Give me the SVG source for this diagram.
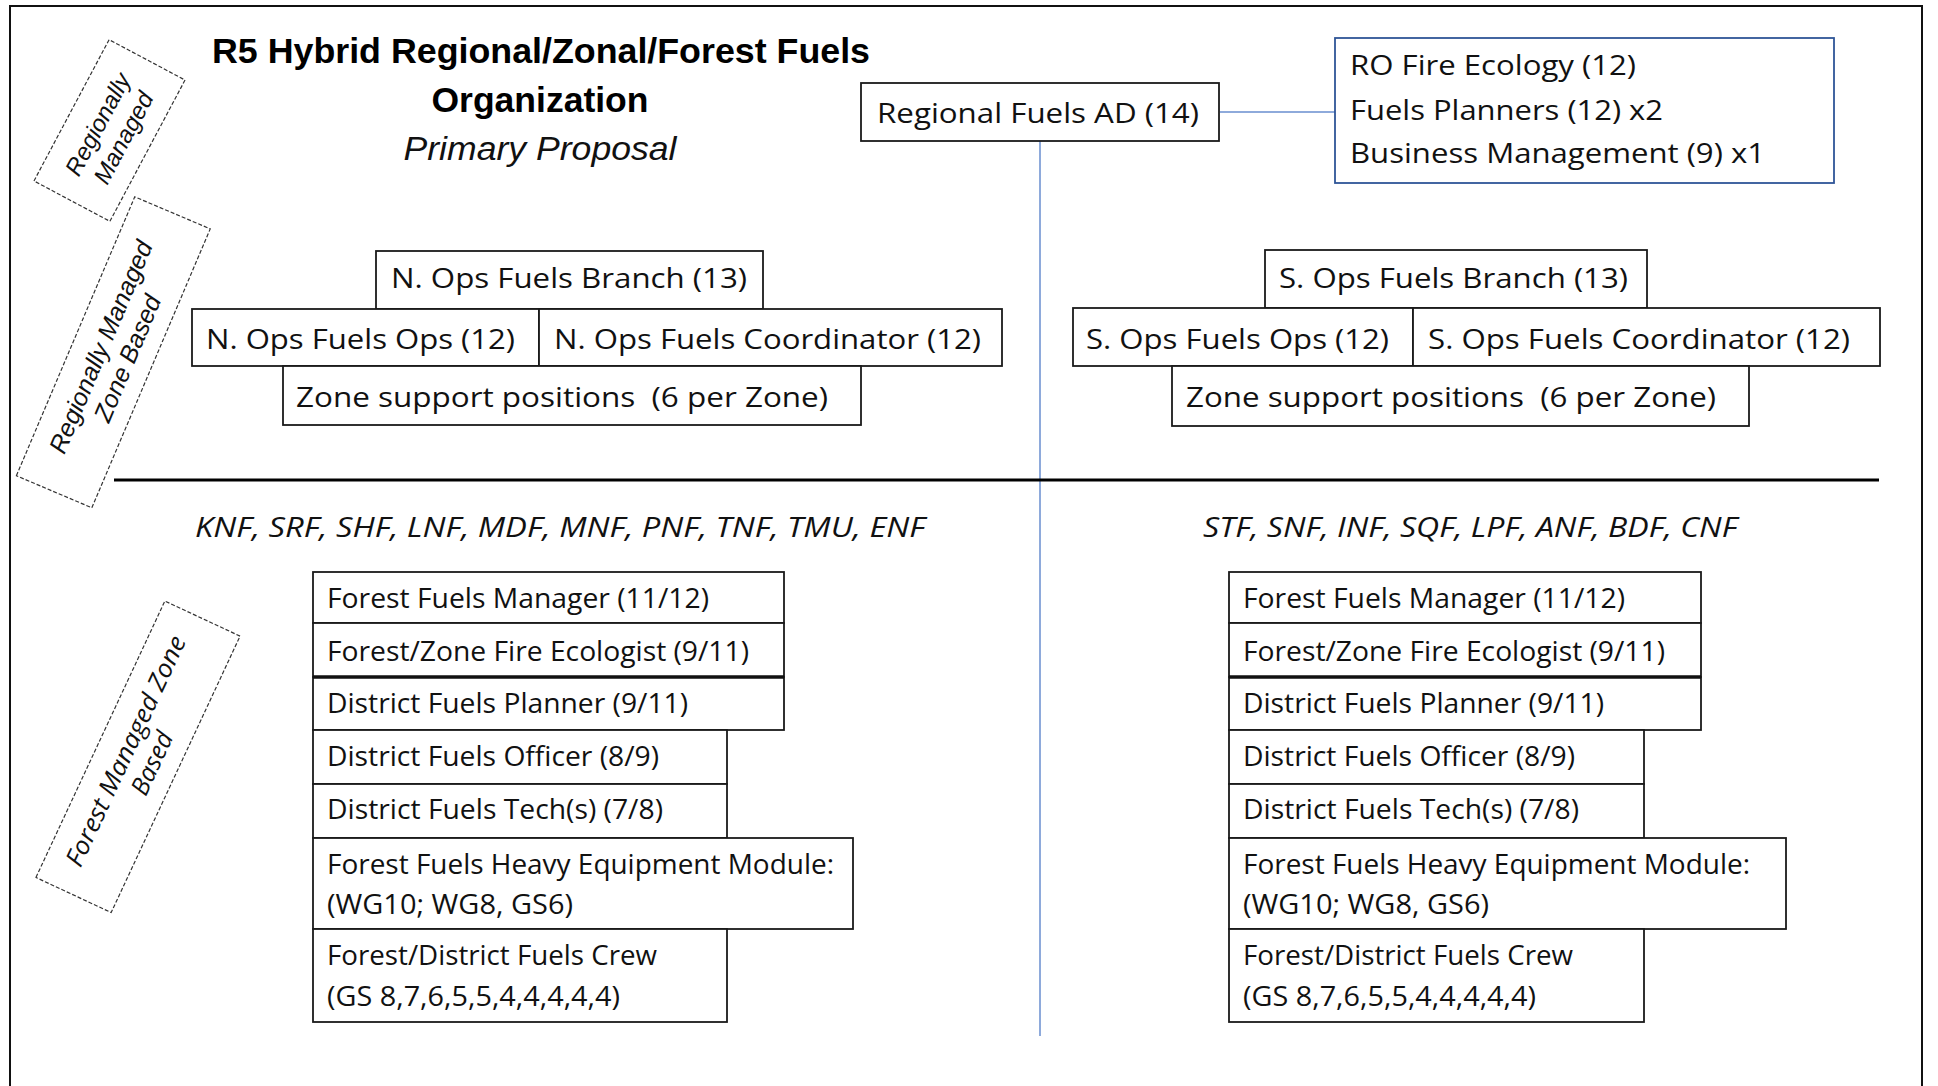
<svg xmlns="http://www.w3.org/2000/svg" width="1938" height="1086" viewBox="0 0 1938 1086">
<style>
.box{fill:#fff;stroke:#1a1a1a;stroke-width:1.8}
.rob{fill:#fff;stroke:#2F5597;stroke-width:1.8}
.t{font-family:"Open Sans","Liberation Sans",sans-serif;font-size:28px;fill:#111}
.ti{font-family:"Open Sans","Liberation Sans",sans-serif;font-style:italic;font-size:28px;fill:#111}
.title{font-family:"Liberation Sans",Arial,sans-serif;font-weight:bold;font-size:35px;fill:#000;text-anchor:middle}
.sub{font-family:"Liberation Sans",Arial,sans-serif;font-style:italic;font-size:34px;fill:#111;text-anchor:middle}
.dash{fill:none;stroke:#333;stroke-width:1.2;stroke-dasharray:4 2}
.rl{font-family:"Liberation Sans",Arial,sans-serif;font-style:italic;fill:#111;text-anchor:middle}
.rc{font-family:"Open Sans","Liberation Sans",sans-serif;font-style:italic;fill:#111;text-anchor:middle}
.conn{stroke:#8EAADB;stroke-width:2;fill:none}
.mid{text-anchor:middle}
</style>
<rect width="1938" height="1086" fill="#fff"/>
<rect x="10" y="6" width="1912" height="1100" fill="none" stroke="#111" stroke-width="2"/>

<g id="title">
<text class="title" x="541" y="63" textLength="658" lengthAdjust="spacingAndGlyphs">R5 Hybrid Regional/Zonal/Forest Fuels</text>
<text class="title" x="540" y="112" textLength="217" lengthAdjust="spacingAndGlyphs">Organization</text>
<text class="sub" x="540" y="160" textLength="273" lengthAdjust="spacingAndGlyphs">Primary Proposal</text>
</g>

<g id="connectors">
<line class="conn" x1="1220" y1="112" x2="1335" y2="112"/>
<line class="conn" x1="1040" y1="141" x2="1040" y2="1036"/>
</g>
<line id="divider" x1="114" y1="480" x2="1879" y2="480" stroke="#000" stroke-width="3"/>

<g id="label-regionally-managed" transform="translate(109.5,130.5) rotate(-62)">
<rect class="dash" x="-80" y="-43" width="160" height="86"/>
<text class="rl" font-size="24" y="-5">Regionally</text>
<text class="rl" font-size="24" y="24">Managed</text>
</g>
<g id="label-regionally-zone" transform="translate(113.3,352.3) rotate(-67)">
<rect class="dash" x="-151.5" y="-41" width="303" height="82"/>
<text class="rl" font-size="25" y="-5">Regionally Managed</text>
<text class="rl" font-size="25" y="24">Zone Based</text>
</g>
<g id="label-forest-zone" transform="translate(138,756.8) rotate(-65)">
<rect class="dash" x="-152.5" y="-41.5" width="305" height="83"/>
<text class="rc" font-size="25" y="-5" textLength="251" lengthAdjust="spacingAndGlyphs">Forest Managed Zone</text>
<text class="rc" font-size="25" y="24">Based</text>
</g>

<g id="regional-ad">
<rect class="box" x="861" y="83" width="358" height="58"/>
<text class="t mid" x="1038" y="123" textLength="322" lengthAdjust="spacingAndGlyphs">Regional Fuels AD (14)</text>
</g>
<g id="ro-staff">
<rect class="rob" x="1335" y="38" width="499" height="145"/>
<text class="t" x="1350" y="75" textLength="286" lengthAdjust="spacingAndGlyphs">RO Fire Ecology (12)</text>
<text class="t" x="1350" y="120" textLength="313" lengthAdjust="spacingAndGlyphs">Fuels Planners (12) x2</text>
<text class="t" x="1350" y="163" textLength="415" lengthAdjust="spacingAndGlyphs">Business Management (9) x1</text>
</g>

<g id="n-branch">
<rect class="box" x="376" y="251" width="387" height="58"/>
<text class="t" x="391" y="288" textLength="356" lengthAdjust="spacingAndGlyphs">N. Ops Fuels Branch (13)</text>
</g>
<g id="n-ops">
<rect class="box" x="192" y="309" width="347" height="57"/>
<text class="t" x="206" y="349" textLength="309" lengthAdjust="spacingAndGlyphs">N. Ops Fuels Ops (12)</text>
</g>
<g id="n-coord">
<rect class="box" x="539" y="309" width="463" height="57"/>
<text class="t" x="554" y="349" textLength="427" lengthAdjust="spacingAndGlyphs">N. Ops Fuels Coordinator (12)</text>
</g>
<g id="n-zone">
<rect class="box" x="283" y="366" width="578" height="59"/>
<text class="t" x="296" y="407" textLength="532" lengthAdjust="spacingAndGlyphs" xml:space="preserve">Zone support positions  (6 per Zone)</text>
</g>

<g id="s-branch">
<rect class="box" x="1265" y="250" width="382" height="58"/>
<text class="t" x="1279" y="288" textLength="349" lengthAdjust="spacingAndGlyphs">S. Ops Fuels Branch (13)</text>
</g>
<g id="s-ops">
<rect class="box" x="1073" y="308" width="340" height="58"/>
<text class="t" x="1086" y="349" textLength="303" lengthAdjust="spacingAndGlyphs">S. Ops Fuels Ops (12)</text>
</g>
<g id="s-coord">
<rect class="box" x="1413" y="308" width="467" height="58"/>
<text class="t" x="1428" y="349" textLength="422" lengthAdjust="spacingAndGlyphs">S. Ops Fuels Coordinator (12)</text>
</g>
<g id="s-zone">
<rect class="box" x="1172" y="366" width="577" height="60"/>
<text class="t" x="1186" y="407" textLength="530" lengthAdjust="spacingAndGlyphs" xml:space="preserve">Zone support positions  (6 per Zone)</text>
</g>

<g id="forests-north">
<text class="ti" x="195" y="537" textLength="730" lengthAdjust="spacingAndGlyphs">KNF, SRF, SHF, LNF, MDF, MNF, PNF, TNF, TMU, ENF</text>
</g>
<g id="forests-south">
<text class="ti" x="1203" y="537" textLength="534" lengthAdjust="spacingAndGlyphs">STF, SNF, INF, SQF, LPF, ANF, BDF, CNF</text>
</g>

<g id="n-manager"><rect class="box" x="313" y="572" width="471" height="51"/>
<text class="t" x="327" y="608" textLength="382" lengthAdjust="spacingAndGlyphs">Forest Fuels Manager (11/12)</text></g>
<g id="n-ecologist"><rect class="box" x="313" y="623" width="471" height="54"/>
<text class="t" x="327" y="661" textLength="422" lengthAdjust="spacingAndGlyphs">Forest/Zone Fire Ecologist (9/11)</text></g>
<g id="n-planner"><rect class="box" x="313" y="677" width="471" height="53"/>
<line x1="313" y1="677" x2="784" y2="677" stroke="#111" stroke-width="3.5"/>
<text class="t" x="327" y="713" textLength="361" lengthAdjust="spacingAndGlyphs">District Fuels Planner (9/11)</text></g>
<g id="n-officer"><rect class="box" x="313" y="730" width="414" height="54"/>
<text class="t" x="327" y="766" textLength="332" lengthAdjust="spacingAndGlyphs">District Fuels Officer (8/9)</text></g>
<g id="n-tech"><rect class="box" x="313" y="784" width="414" height="54"/>
<text class="t" x="327" y="819" textLength="336" lengthAdjust="spacingAndGlyphs">District Fuels Tech(s) (7/8)</text></g>
<g id="n-heavy"><rect class="box" x="313" y="838" width="540" height="91"/>
<text class="t" x="327" y="874" textLength="507" lengthAdjust="spacingAndGlyphs">Forest Fuels Heavy Equipment Module:</text>
<text class="t" x="327" y="914" textLength="246" lengthAdjust="spacingAndGlyphs">(WG10; WG8, GS6)</text></g>
<g id="n-crew"><rect class="box" x="313" y="929" width="414" height="93"/>
<text class="t" x="327" y="965" textLength="330" lengthAdjust="spacingAndGlyphs">Forest/District Fuels Crew</text>
<text class="t" x="327" y="1006" textLength="293" lengthAdjust="spacingAndGlyphs">(GS 8,7,6,5,5,4,4,4,4,4)</text></g>

<g id="s-manager"><rect class="box" x="1229" y="572" width="472" height="51"/>
<text class="t" x="1243" y="608" textLength="382" lengthAdjust="spacingAndGlyphs">Forest Fuels Manager (11/12)</text></g>
<g id="s-ecologist"><rect class="box" x="1229" y="623" width="472" height="54"/>
<text class="t" x="1243" y="661" textLength="422" lengthAdjust="spacingAndGlyphs">Forest/Zone Fire Ecologist (9/11)</text></g>
<g id="s-planner"><rect class="box" x="1229" y="677" width="472" height="53"/>
<line x1="1229" y1="677" x2="1701" y2="677" stroke="#111" stroke-width="3.5"/>
<text class="t" x="1243" y="713" textLength="361" lengthAdjust="spacingAndGlyphs">District Fuels Planner (9/11)</text></g>
<g id="s-officer"><rect class="box" x="1229" y="730" width="415" height="54"/>
<text class="t" x="1243" y="766" textLength="332" lengthAdjust="spacingAndGlyphs">District Fuels Officer (8/9)</text></g>
<g id="s-tech"><rect class="box" x="1229" y="784" width="415" height="54"/>
<text class="t" x="1243" y="819" textLength="336" lengthAdjust="spacingAndGlyphs">District Fuels Tech(s) (7/8)</text></g>
<g id="s-heavy"><rect class="box" x="1229" y="838" width="557" height="91"/>
<text class="t" x="1243" y="874" textLength="507" lengthAdjust="spacingAndGlyphs">Forest Fuels Heavy Equipment Module:</text>
<text class="t" x="1243" y="914" textLength="246" lengthAdjust="spacingAndGlyphs">(WG10; WG8, GS6)</text></g>
<g id="s-crew"><rect class="box" x="1229" y="929" width="415" height="93"/>
<text class="t" x="1243" y="965" textLength="330" lengthAdjust="spacingAndGlyphs">Forest/District Fuels Crew</text>
<text class="t" x="1243" y="1006" textLength="293" lengthAdjust="spacingAndGlyphs">(GS 8,7,6,5,5,4,4,4,4,4)</text></g>
</svg>
